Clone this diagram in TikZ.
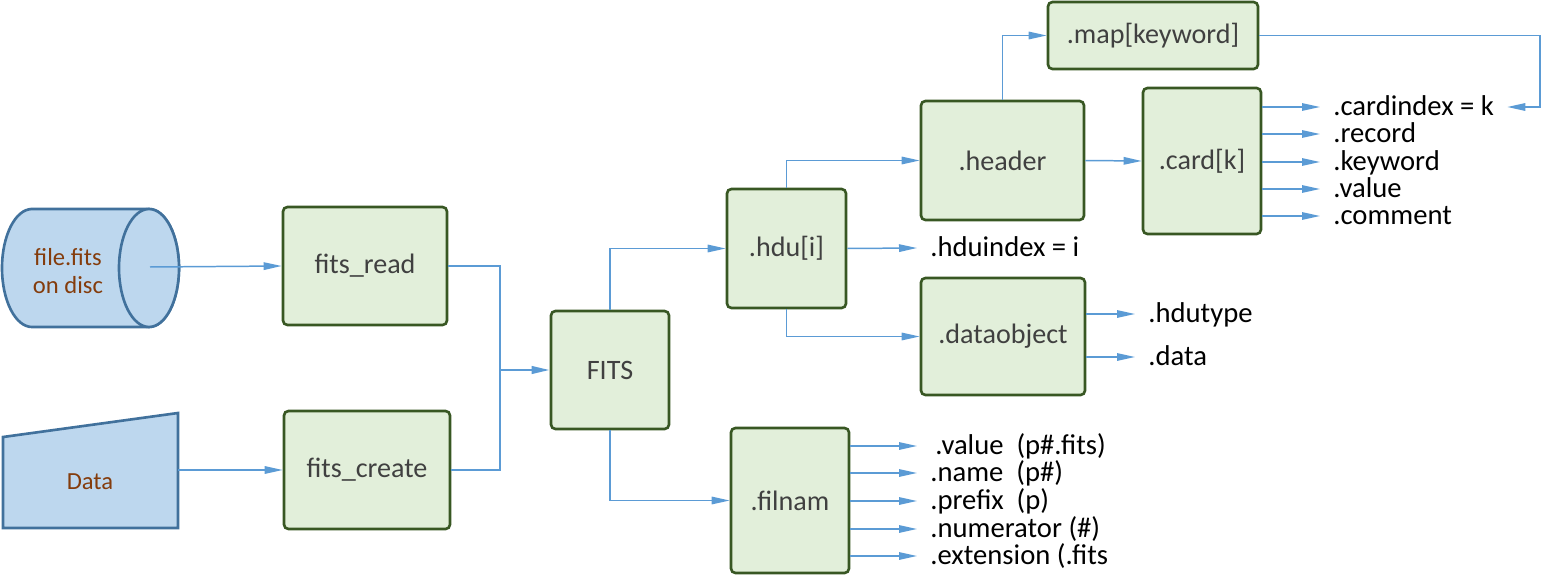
\documentclass[tikz,border=0pt]{standalone}
\usepackage{fontspec}
\setmainfont{Carlito}
\usepackage{xcolor}
\usepackage{tikz}
\usetikzlibrary{arrows.meta,positioning,calc}

\definecolor{boxfill}{HTML}{E2EFDA}
\definecolor{boxedge}{HTML}{385723}
\definecolor{boxtext}{HTML}{404040}
\definecolor{linkblue}{HTML}{5B9BD5}
\definecolor{diskfill}{HTML}{BDD7EE}
\definecolor{diskedge}{HTML}{41719C}
\definecolor{diskbrown}{HTML}{843C0C}

\begin{document}
\begin{tikzpicture}[x=0.02cm, y=-0.02cm,
  fitsbox/.style={draw=boxedge, fill=boxfill, line width=1.5pt, rounded corners=2.5pt,
    text=boxtext, font=\fontsize{16}{19}\selectfont, inner sep=0pt},
  srcshape/.style={draw=diskedge, fill=diskfill, line width=1.5pt},
  srctext/.style={text=diskbrown, font=\fontsize{14}{16}\selectfont, align=center},
  wire/.style={draw=linkblue, line width=0.85pt},
  link/.style={wire, -{Triangle[length=0.36cm,width=0.15cm]}},
  lbl/.style={anchor=west, inner xsep=0.26cm, inner ysep=0pt, text height=0.95em,
    text depth=0pt, font=\fontsize{16.3}{19}\selectfont}]
\useasboundingbox (0,0) rectangle (1542,588);

% Sources: file on disc and data
\draw[srcshape] (32,209) -- (149,209) arc[start angle=90, end angle=-90, x radius=0.6cm, y radius=1.18cm]
  -- (32,327) arc[start angle=270, end angle=90, x radius=0.6cm, y radius=1.18cm] -- cycle;
\draw[srcshape] (149,268) ellipse[x radius=0.6cm, y radius=1.18cm];
\node[srctext] (disctxt) at (68,271) {file.fits\\on disc};
\coordinate (disc) at (150,267);

\draw[srcshape] (3,437) -- (178,413) -- (178,528) -- (3,528) -- cycle;
\node[srctext] (datatxt) at (90,482) {Data};
\coordinate (datain) at (178,470);

% Boxes
\node[fitsbox, minimum width=3.28cm, minimum height=2.36cm] (read) at (365,266) {fits\_read};
\node[fitsbox, minimum width=3.32cm, minimum height=2.36cm] (create) at (367,470) {fits\_create};
\node[fitsbox, minimum width=2.36cm, minimum height=2.36cm] (fits) at (610,370) {FITS};
\node[fitsbox, minimum width=2.38cm, minimum height=2.38cm] (hdu) at (786.5,248.5) {.hdu[i]};
\node[fitsbox, minimum width=2.36cm, minimum height=2.90cm] (filnam) at (790,500.5) {.filnam};
\node[fitsbox, minimum width=3.26cm, minimum height=2.38cm] (header) at (1002.5,160.5) {.header};
\node[fitsbox, minimum width=4.20cm, minimum height=1.34cm] (map) at (1153,35.5) {.map[keyword]};
\node[fitsbox, minimum width=2.36cm, minimum height=2.92cm] (card) at (1202,161) {.card[k]};
\node[fitsbox, minimum width=3.28cm, minimum height=2.34cm] (dobj) at (1003,336.5) {.dataobject};

% Main flow
\coordinate (join) at (500,370);
\draw[link] (disc) -- (read.west);
\draw[link] (datain) -- (create.west);
\draw[wire] (read.east) -| (join);
\draw[wire] (create.east) -| (join);
\draw[link, line width=1.4pt] (join) -- (fits.west);
\draw[link] (fits.north) |- (hdu.west);
\draw[link] (fits.south) |- (filnam.west);
\draw[link] (hdu.north) |- (header.west);
\draw[link] (hdu.south) |- (dobj.west);
\draw[link] (header.north) |- (map.west);
\draw[link] (header.east) -- (card.west);

% Members
\node[lbl] (hduidx) at (917,248) {.hduindex = i};
\draw[link] (hdu.east) -- (hduidx.west);

\foreach \nm/\yy/\txt in {ci/107/.cardindex = k, crec/134/.record, ckey/162/.keyword,
    cval/189/.value, ccom/216/.comment} {
  \node[lbl] (\nm) at (1320,\yy) {\txt};
  \draw[link] (card.east |- \nm.west) -- (\nm.west);
}

\foreach \nm/\yy/\txt in {dtype/314/.hdutype, ddata/357/.data} {
  \node[lbl] (\nm) at (1135,\yy) {\txt};
  \draw[link] (dobj.east |- \nm.west) -- (\nm.west);
}

\foreach \nm/\yy/\txt in {fval/446/\hspace{0.1cm}.value~~(p\#.fits), fname/473/.name~~(p\#),
    fpre/501/.prefix~~(p), fnum/529/.numerator (\#), fext/556/.extension (.fits} {
  \node[lbl] (\nm) at (917,\yy) {\txt};
  \draw[link] (filnam.east |- \nm.west) -- (\nm.west);
}

% Keyword lookup
\coordinate (turn) at (1540,35.5);
\draw[link] (map.east) -- (turn) |- (ci.east);
\end{tikzpicture}
\end{document}
